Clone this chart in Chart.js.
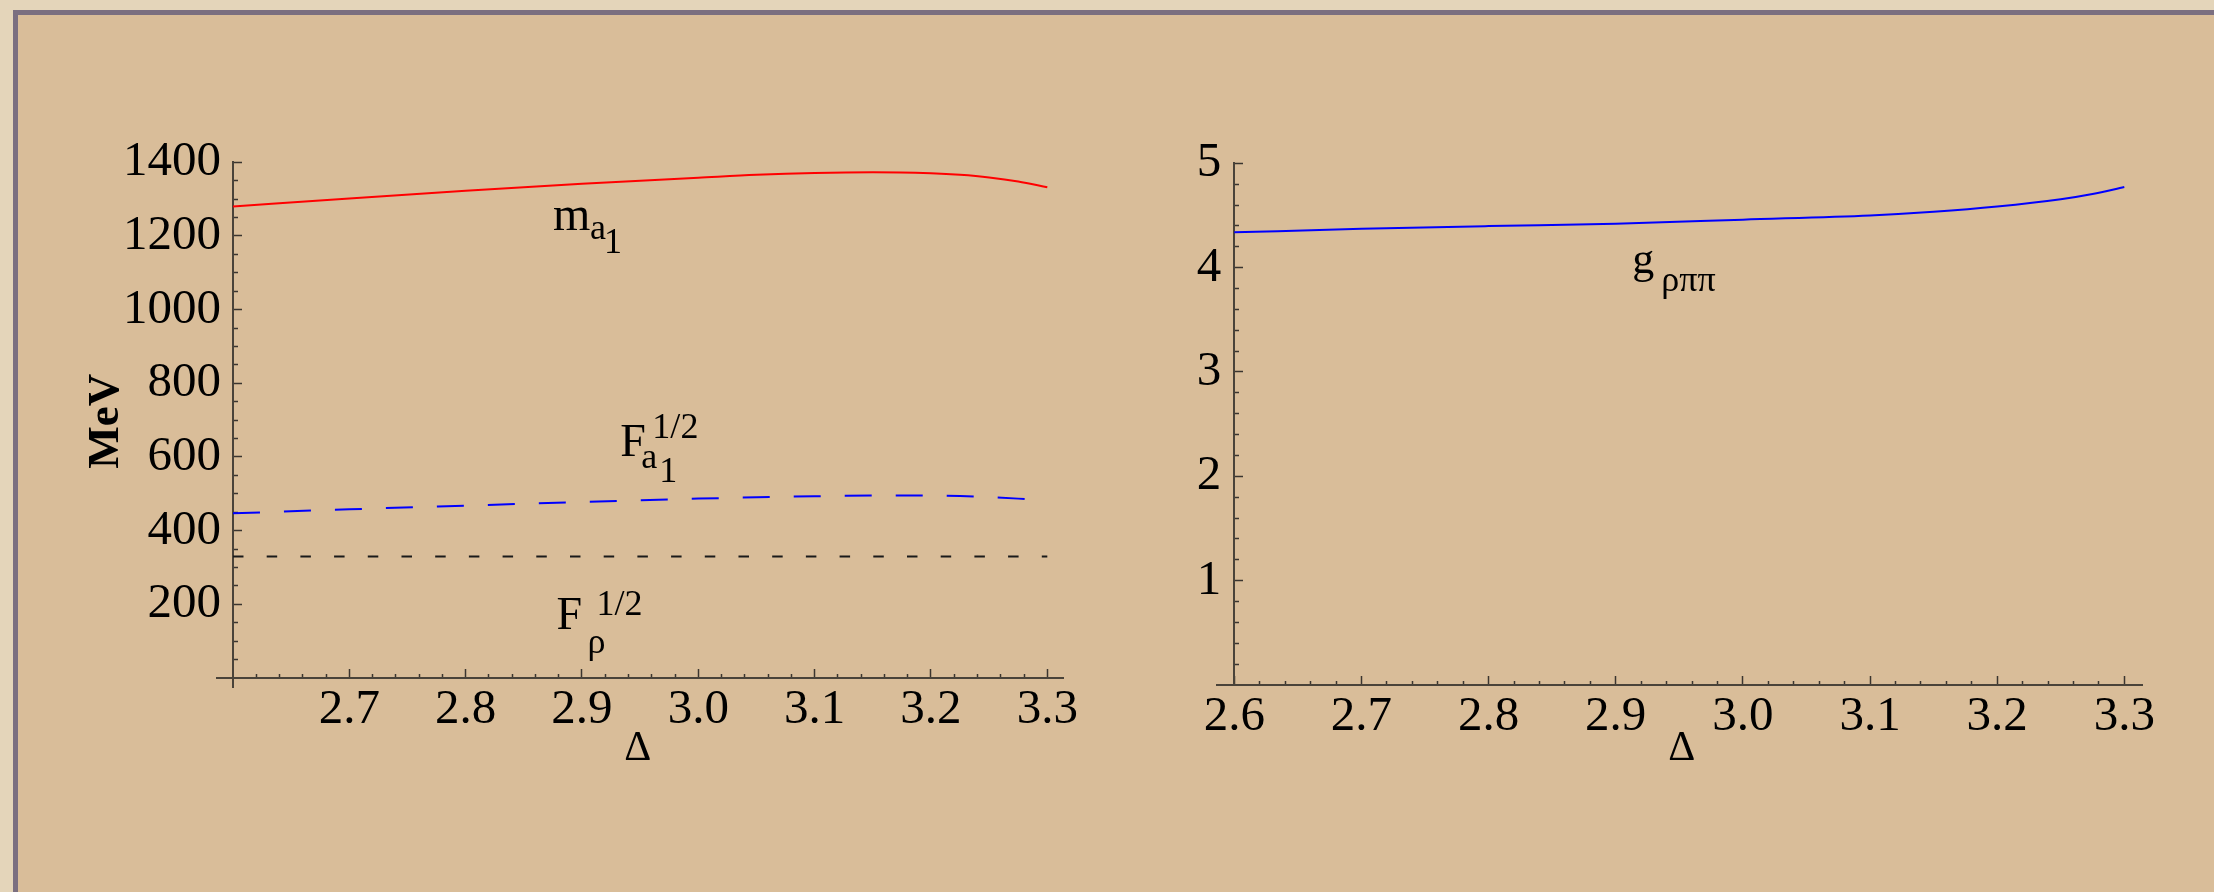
<!DOCTYPE html>
<html>
<head>
<meta charset="utf-8">
<title>a1 and rho parameters versus Delta</title>
<script src="https://cdn.jsdelivr.net/npm/chart.js@4.4.1/dist/chart.umd.min.js"></script>
<style>
  html, body { margin: 0; padding: 0; }
  body { width: 2214px; height: 892px; overflow: hidden; position: relative; background: #e4d5ba; }
  #sheet {
    position: absolute; left: 13px; top: 10px; width: 2220px; height: 900px;
    background: #d9bd99;
    border-left: 5px solid #7b6f80; border-top: 5px solid #7b6f80;
  }
  canvas { position: absolute; left: 0; top: 0; }
</style>
</head>
<body>
<div id="sheet"></div>
<canvas id="massChart" width="2214" height="892"></canvas>
<canvas id="couplingChart" width="2214" height="892"></canvas>
<script>
// ---- left panel: masses and decay constants (MeV) versus Delta ----
const deltaLeft = [2.6, 2.7, 2.8, 2.9, 3.0, 3.05, 3.1, 3.15, 3.2, 3.225, 3.25, 3.275, 3.3];
const massA1    = [1280, 1302, 1323, 1342, 1358, 1366, 1371, 1373, 1370, 1366, 1359, 1348, 1332];
const fA1Root   = [447, 458, 468, 478, 487, 490.5, 493.5, 495.5, 495.5, 494, 491, 487, 482];
const fRhoRoot  = [330, 330, 330, 330, 330, 330, 330, 330, 330, 330, 330, 330, 330];

// ---- right panel: rho-pi-pi coupling versus Delta ----
const deltaRight = [2.6, 2.7, 2.8, 2.9, 3.0, 3.1, 3.15, 3.2, 3.25, 3.275, 3.3];
const gRhoPiPi   = [4.338, 4.372, 4.398, 4.42, 4.46, 4.50, 4.535, 4.585, 4.655, 4.705, 4.773];

// ---- tick marks and their labels ----
const deltaTicksLeft       = [2.7, 2.8, 2.9, 3.0, 3.1, 3.2, 3.3];
const deltaTickLabelsLeft  = ['2.7', '2.8', '2.9', '3.0', '3.1', '3.2', '3.3'];
const deltaTicksRight      = [2.6, 2.7, 2.8, 2.9, 3.0, 3.1, 3.2, 3.3];
const deltaTickLabelsRight = ['2.6', '2.7', '2.8', '2.9', '3.0', '3.1', '3.2', '3.3'];
const massTicks            = [200, 400, 600, 800, 1000, 1200, 1400];
const massTickLabels       = ['200', '400', '600', '800', '1000', '1200', '1400'];
const couplingTicks        = [1, 2, 3, 4, 5];
const couplingTickLabels   = ['1', '2', '3', '4', '5'];

const DELTA_ORIGIN = 2.6;     // where the vertical axis crosses
const LABEL_GAP    = 0.0103;  // gap between vertical axis and its labels, in Delta units

const SERIF = '"Liberation Serif", "Times New Roman", serif';
const TICK_FONT = { family: SERIF, size: 49, lineHeight: 1.2 };
Chart.defaults.font.family = SERIF;

function steps(from, to, step) {
  const out = [];
  const n = Math.round((to - from) / step);
  for (let k = 0; k <= n; k++) out.push(Math.round((from + k * step) * 1e6) / 1e6);
  return out;
}

function labeller(majors, labels) {
  return v => {
    const i = majors.findIndex(m => Math.abs(m - v) < 1e-9);
    return i >= 0 ? labels[i] : '';
  };
}

// Axis in the Mathematica style: line through the origin, ticks pointing inwards,
// long major ticks and short minor ticks. Labels are optional.
function buildAxis({min, max, anchor, majors, labels, minorFrom, minorTo, minorStep, minorLen, padding, showLabels}) {
  const isMajor = v => majors.some(m => Math.abs(m - v) < 1e-9);
  const minors = steps(minorFrom, minorTo, minorStep).filter(v => !isMajor(v));
  const all = majors.concat(minors).sort((a, b) => a - b);
  return {
    type: 'linear',
    min, max,
    position: anchor,
    afterBuildTicks(scale) { scale.ticks = all.map(v => ({value: v})); },
    grid: {
      display: true,
      drawOnChartArea: false,
      drawTicks: true,
      tickLength: -10,
      tickWidth: 1.5,
      tickColor: '#3b352f',
      tickBorderDash: ctx => (ctx.tick && !isMajor(ctx.tick.value)) ? [minorLen, 40] : []
    },
    border: { display: true, color: '#4a4339', width: 2 },
    ticks: {
      display: showLabels,
      autoSkip: false,
      maxRotation: 0,
      minRotation: 0,
      padding: padding || 0,
      color: '#000',
      font: TICK_FONT,
      callback: labeller(majors, labels)
    }
  };
}

// Labels of a vertical axis, right-aligned just left of the axis line.
function labelColumn({min, max, majors, labels}) {
  return {
    type: 'linear',
    min, max,
    position: { x: DELTA_ORIGIN - LABEL_GAP },
    afterBuildTicks(scale) { scale.ticks = majors.map(v => ({value: v})); },
    grid: { display: false, drawTicks: false, drawOnChartArea: false },
    border: { display: false },
    ticks: {
      autoSkip: false,
      padding: 0,
      color: '#000',
      font: TICK_FONT,
      callback: labeller(majors, labels)
    }
  };
}

// Free text (curve names, axis titles) placed in data coordinates.
function notes(items) {
  return {
    id: 'notes',
    afterDraw(chart) {
      const {ctx} = chart;
      const xs = chart.scales.x, ys = chart.scales.y;
      for (const note of items) {
        ctx.save();
        ctx.translate(xs.getPixelForValue(note.x), ys.getPixelForValue(note.y));
        if (note.rotate) ctx.rotate(note.rotate);
        for (const p of note.parts) {
          ctx.font = `${p.weight || 'normal'} ${p.size}px ${SERIF}`;
          ctx.fillStyle = '#000';
          ctx.textAlign = p.align || 'left';
          ctx.textBaseline = p.baseline || 'alphabetic';
          ctx.fillText(p.text, p.dx || 0, p.dy || 0);
        }
        ctx.restore();
      }
    }
  };
}

const pairs = (xs, ys) => xs.map((x, i) => ({x, y: ys[i]}));

const lineStyle = { pointRadius: 0, borderWidth: 2, fill: false, cubicInterpolationMode: 'monotone', xAxisID: 'x', yAxisID: 'y' };

// ---------------- left panel ----------------
new Chart(document.getElementById('massChart'), {
  type: 'line',
  data: {
    datasets: [
      Object.assign({ label: 'm_a1', data: pairs(deltaLeft, massA1), borderColor: '#ff0000' }, lineStyle),
      Object.assign({ label: 'F_a1^1/2', data: pairs(deltaLeft, fA1Root), borderColor: '#0000ff', borderDash: [27, 24] }, lineStyle),
      Object.assign({ label: 'F_rho^1/2', data: pairs(deltaLeft, fRhoRoot), borderColor: '#1a1a1a', borderDash: [10.5, 23.2] }, lineStyle)
    ]
  },
  options: {
    responsive: false,
    animation: false,
    events: [],
    layout: { padding: { left: 216.7, top: 162.3, right: 1150.4, bottom: 204.4 } },
    plugins: { legend: { display: false }, tooltip: { enabled: false } },
    scales: {
      x: buildAxis({ min: 2.586, max: 3.314, anchor: { y: 0 }, majors: deltaTicksLeft, labels: deltaTickLabelsLeft,
                     minorFrom: 2.62, minorTo: 3.28, minorStep: 0.02, minorLen: 5, padding: 12.4, showLabels: true }),
      y: buildAxis({ min: -26, max: 1400, anchor: { x: DELTA_ORIGIN }, majors: massTicks, labels: massTickLabels,
                     minorFrom: 50, minorTo: 1350, minorStep: 50, minorLen: 6, showLabels: false }),
      yLabels: labelColumn({ min: -26, max: 1400, majors: massTicks, labels: massTickLabels })
    }
  },
  plugins: [notes([
    { x: 2.875, y: 1215, parts: [
      { text: 'm', size: 48 },
      { text: 'a', size: 36, dx: 37, dy: 9 },
      { text: '1', size: 36, dx: 51, dy: 23 } ] },
    { x: 2.933, y: 602, parts: [
      { text: 'F', size: 46 },
      { text: 'a', size: 36, dx: 21, dy: 11.5 },
      { text: '1', size: 36, dx: 39, dy: 25.7 },
      { text: '1/2', size: 36, dx: 32, dy: -18 } ] },
    { x: 2.878, y: 134, parts: [
      { text: 'F', size: 46 },
      { text: 'ρ', size: 36, dx: 31, dy: 24 },
      { text: '1/2', size: 36, dx: 40, dy: -13.4 } ] },
    { x: 2.948, y: -222, parts: [ { text: 'Δ', size: 42, align: 'center' } ] },
    { x: 2.491, y: 697, rotate: -Math.PI / 2, parts: [
      { text: 'MeV', size: 45, weight: 'bold', align: 'center', baseline: 'middle' } ] }
  ])]
});

// ---------------- right panel ----------------
new Chart(document.getElementById('couplingChart'), {
  type: 'line',
  data: {
    datasets: [
      Object.assign({ label: 'g_rho pi pi', data: pairs(deltaRight, gRhoPiPi), borderColor: '#0000ff' }, lineStyle)
    ]
  },
  options: {
    responsive: false,
    animation: false,
    events: [],
    layout: { padding: { left: 1216.5, top: 163.3, right: 71.9, bottom: 207 } },
    plugins: { legend: { display: false }, tooltip: { enabled: false } },
    scales: {
      x: buildAxis({ min: 2.586, max: 3.314, anchor: { y: 0 }, majors: deltaTicksRight, labels: deltaTickLabelsRight,
                     minorFrom: 2.62, minorTo: 3.28, minorStep: 0.02, minorLen: 5, padding: 12.4, showLabels: true }),
      y: buildAxis({ min: 0, max: 5, anchor: { x: DELTA_ORIGIN }, majors: couplingTicks, labels: couplingTickLabels,
                     minorFrom: 0.2, minorTo: 4.8, minorStep: 0.2, minorLen: 6, showLabels: false }),
      yLabels: labelColumn({ min: 0, max: 5, majors: couplingTicks, labels: couplingTickLabels })
    }
  },
  plugins: [notes([
    { x: 2.913, y: 3.95, parts: [
      { text: 'g', size: 44 },
      { text: 'ρππ', size: 36, dx: 29, dy: 18.6 } ] },
    { x: 2.952, y: -0.72, parts: [ { text: 'Δ', size: 42, align: 'center' } ] }
  ])]
});
</script>
</body>
</html>
